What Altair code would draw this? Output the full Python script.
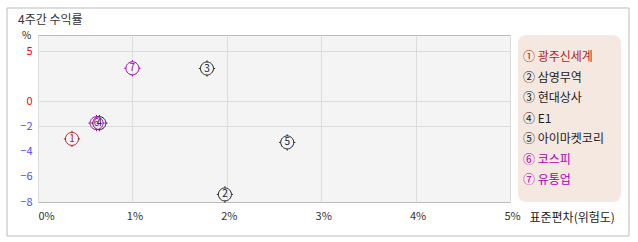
import altair as alt
import pandas as pd

FONT = "Noto Sans CJK KR"

marks = ["①", "②", "③", "④", "⑤", "⑥", "⑦"]
numbers = ["1", "2", "3", "4", "5", "6", "7"]
names = ["광주신세계", "삼영무역", "현대상사", "E1", "아이마켓코리", "코스피", "유통업"]
std_dev = [0.36, 1.98, 1.79, 0.65, 2.64, 0.62, 1.0]
returns = [-3.0, -7.4, 3.25, -1.75, -3.28, -1.75, 3.27]
colors = ["#b01c1c", "#222222", "#222222", "#222222", "#222222", "#aa00bb", "#aa00bb"]
x_ticks = [0, 1, 2, 3, 4, 5]
y_ticks = [-8, -6, -4, -2, 0, 5]

df = pd.DataFrame({
    "num": numbers,
    "name": names,
    "label": [m + " " + n for m, n in zip(marks, names)],
    "x": std_dev,
    "y": returns,
})

color = alt.Color("name:N", scale=alt.Scale(domain=names, range=colors), legend=None)

x_enc = alt.X(
    "x:Q",
    scale=alt.Scale(domain=[0, 5], nice=False, zero=False),
    axis=alt.Axis(
        values=x_ticks, tickCount=len(x_ticks), labelExpr="datum.value + '%'", grid=True,
        gridColor="#dcdcdc",
        domain=False, ticks=False, labelFont=FONT, labelFontSize=11, labelColor="#333333",
        labelPadding=8, labelOverlap=False,
        labelAlign={"condition": {"test": "datum.value == 0", "value": "left"}, "value": "center"},
        labelOffset={"condition": {"test": "datum.value == 0", "value": 0}, "value": 2},
        title="표준편차(위험도)", titleFont=FONT, titleFontSize=12, titleFontWeight="normal",
        titleColor="#222222", titleX=491, titleY=15, titleAlign="left", titleBaseline="middle",
    ),
)
y_enc = alt.Y(
    "y:Q",
    scale=alt.Scale(domain=[-8, 0, 6.6], range=[167, 66, 0], nice=False, zero=False),
    axis=alt.Axis(
        values=y_ticks, tickCount=len(y_ticks), grid=True, gridColor="#dcdcdc", labelOverlap=False,
        gridOpacity={"condition": {"test": "datum.value < -2", "value": 0}, "value": 1},
        domain=False, ticks=False, labelFont=FONT, labelFontSize=11, labelPadding=6,
        labelColor={"condition": {"test": "datum.value < 0", "value": "#4a4aff"}, "value": "#ff0000"},
        title="%", titleAngle=0, titleX=-12, titleY=0, titleAlign="center", titleBaseline="middle",
        titleFont=FONT, titleFontSize=10, titleFontWeight="normal", titleColor="#222222",
    ),
)

marker_path = ("M1,0A1,1,0,1,1,-1,0A1,1,0,1,1,1,0Z"
               "M0,-1L0,-1.25M0,1L0,1.25M-1,0L-1.25,0M1,0L1.25,0")

frame = alt.Chart(pd.DataFrame({"a": [0]})).mark_rect(
    fillOpacity=0, stroke="#bbbbbb", strokeWidth=1
).encode(x=alt.value(-31), x2=alt.value(591), y=alt.value(-27), y2=alt.value(201))

points = alt.Chart(df).mark_point(
    shape=marker_path, size=169, filled=False, strokeWidth=1, opacity=1
).encode(x=x_enc, y=y_enc, color=color)

nums = alt.Chart(df).mark_text(
    font=FONT, fontSize=10, baseline="middle", align="center", dy=0
).encode(x="x:Q", y="y:Q", text="num:N", color=color)

main = alt.layer(frame, points, nums).properties(
    width=472, height=167,
    title=alt.TitleParams("4주간 수익률", anchor="start", frame="group", dx=-20, dy=23, offset=4,
                          font=FONT, fontSize=12, fontWeight="normal", color="#333333"),
    view=alt.ViewBackground(fill="#f4f4f4", stroke="#bbbbbb", strokeWidth=1),
)

legend = alt.Chart(df).mark_text(
    align="left", baseline="middle", font=FONT, fontSize=12
).encode(
    y=alt.Y("name:N", sort=names, scale=alt.Scale(type="point", range=[22, 145], padding=0), axis=None),
    x=alt.value(5),
    text="label:N",
    color=color,
).properties(
    width=103, height=167,
    view=alt.ViewBackground(fill="#f5e8e0", stroke=None, cornerRadius=8),
)

chart = alt.hconcat(main, legend, spacing=8, bounds="flush").resolve_scale(
    color="shared"
).properties(
    padding={"left": 6, "top": 7, "right": 6, "bottom": 4},
    background="#ffffff",
)

chart.save("out.html", embed_options={"renderer": "svg", "actions": False})
